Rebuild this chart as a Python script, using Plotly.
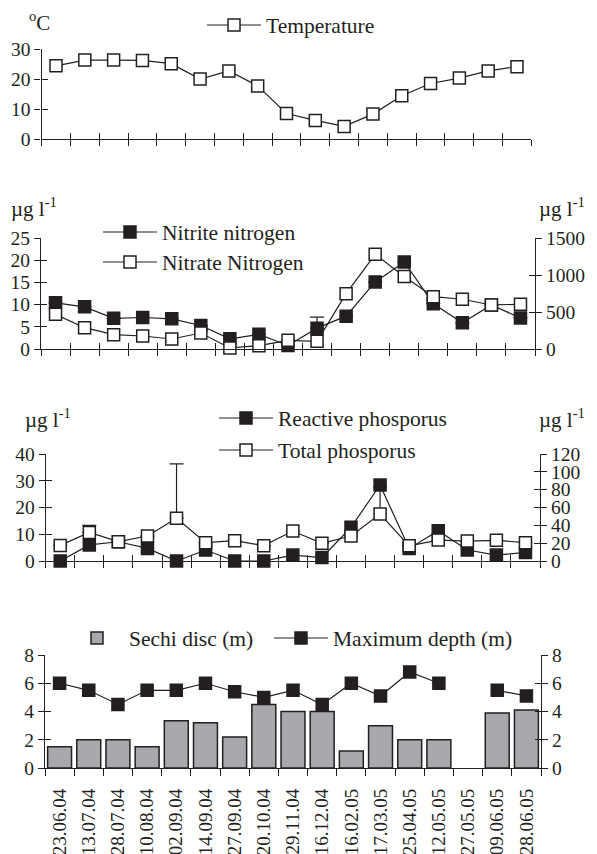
import plotly.graph_objects as go

# ---------------- data ----------------
dates = ["23.06.04", "13.07.04", "28.07.04", "10.08.04", "02.09.04", "14.09.04",
         "27.09.04", "20.10.04", "29.11.04", "16.12.04", "16.02.05", "17.03.05",
         "25.04.05", "12.05.05", "27.05.05", "09.06.05", "28.06.05"]

temperature = [24.4, 26.3, 26.3, 26.2, 25.1, 20.0, 22.7, 17.7, 8.5, 6.2, 4.2, 8.3,
               14.4, 18.5, 20.3, 22.7, 24.1]

nitrite = [10.4, 9.5, 6.9, 7.1, 6.8, 5.3, 2.3, 3.3, 0.8, 4.7, 7.4, 15.1,
           19.6, 10.2, 5.9, 9.9, 7.0]
nitrite_err = [0, 0, 0, 0, 0, 0, 0, 0, 0, 2.5, 0, 0, 0, 0, 0, 0, 0]
nitrate = [468, 288, 194, 176, 135, 216, 14, 45, 117, 104, 748, 1279,
           980, 707, 672, 595, 605]

reactive_p = [0, 6.0, 7.2, 4.7, 0, 4.1, 0, 0, 2.2, 1.3, 12.6, 28.4,
              4.7, 11.3, 4.1, 2.2, 3.2]
total_p = [17.5, 32.0, 21.7, 28.0, 48.0, 20.5, 22.8, 17.2, 33.6, 19.8, 28.0, 52.7,
           17.0, 23.5, 22.4, 23.2, 20.6]
total_p_err = [0, 8, 0, 0, 61, 0, 0, 0, 0, 0, 0, 30, 0, 0, 0, 0, 0]

secchi = [1.5, 2.0, 2.0, 1.5, 3.35, 3.2, 2.2, 4.5, 4.0, 4.0, 1.2, 3.0,
          2.0, 2.0, None, 3.9, 4.1]
max_depth = [6.0, 5.5, 4.5, 5.5, 5.5, 6.0, 5.4, 5.0, 5.5, 4.5, 6.0, 5.1,
             6.8, 6.0, None, 5.5, 5.1]

# ---------------- style ----------------
W, H = 597, 854
OFF = 8  # page body margin of the browser
INK = "#231f20"
FONT = "'Liberation Serif', 'DejaVu Serif', serif"
TICKFONT = dict(family=FONT, size=19.5, color=INK)
DATEFONT = dict(family=FONT, size=19, color=INK)
LEGFONT = dict(family=FONT, size=21.5, color=INK)

n = len(dates)
xidx = list(range(n))
bounds = [i - 0.5 for i in range(n + 1)]


def px_x(p):
    return (p - OFF) / W


def px_y(p):
    return 1 - (p - OFF) / H


def xd(a, b):
    return [px_x(a), px_x(b)]


def yd(top, bottom):
    return [px_y(bottom), px_y(top)]


def base_axis(**kw):
    d = dict(showline=True, linecolor=INK, linewidth=1.3, ticks="outside",
             ticklen=6, tickwidth=1.3, tickcolor=INK, showgrid=False,
             zeroline=False, tickfont=TICKFONT, fixedrange=True)
    d.update(kw)
    return d


def inner_axis(**kw):
    d = dict(showline=False, ticks="inside", ticklen=6, tickwidth=1.3,
             tickcolor=INK, showgrid=False, zeroline=False,
             showticklabels=False, fixedrange=True, tickmode="array")
    d.update(kw)
    return d


fig = go.Figure()

line_style = dict(color=INK, width=1.2)
open_marker = dict(symbol="square", size=12, color="white", line=dict(color=INK, width=1.5))
fill_marker = dict(symbol="square", size=12, color=INK, line=dict(color=INK, width=1.5))

# Panel 1: temperature
fig.add_trace(go.Scatter(x=xidx, y=temperature, mode="lines+markers", name="Temperature",
                         line=line_style, marker=open_marker, xaxis="x", yaxis="y",
                         cliponaxis=False, legend="legend"))

# Panel 2: nitrogen
fig.add_trace(go.Scatter(x=xidx, y=nitrite, mode="lines+markers", name="Nitrite nitrogen",
                         line=line_style, marker=fill_marker, xaxis="x2", yaxis="y2",
                         error_y=dict(type="data", array=nitrite_err,
                                      arrayminus=[0] * n, symmetric=False,
                                      color=INK, thickness=1.2, width=7),
                         cliponaxis=False, legend="legend2"))
fig.add_trace(go.Scatter(x=xidx, y=nitrate, mode="lines+markers", name="Nitrate Nitrogen",
                         line=line_style, marker=open_marker, xaxis="x2", yaxis="y3",
                         cliponaxis=False, legend="legend3"))

# Panel 3: phosphorus
fig.add_trace(go.Scatter(x=xidx, y=reactive_p, mode="lines+markers", name="Reactive phosporus",
                         line=line_style, marker=fill_marker, xaxis="x3", yaxis="y4",
                         cliponaxis=False, legend="legend4"))
fig.add_trace(go.Scatter(x=xidx, y=total_p, mode="lines+markers", name="Total phosporus",
                         line=line_style, marker=open_marker, xaxis="x3", yaxis="y5",
                         error_y=dict(type="data", array=total_p_err,
                                      arrayminus=[0] * n, symmetric=False,
                                      color=INK, thickness=1.2, width=7),
                         cliponaxis=False, legend="legend5"))

# Panel 4: Secchi & depth
fig.add_trace(go.Bar(x=xidx, y=secchi, name="Sechi disc (m)",
                     marker=dict(color="#a7a9ac", line=dict(color=INK, width=1.5)),
                     xaxis="x4", yaxis="y6", legend="legend6"))
fig.add_trace(go.Scatter(x=xidx, y=max_depth, mode="lines+markers", name="Maximum depth (m)",
                         line=line_style, marker=fill_marker, xaxis="x4", yaxis="y7",
                         connectgaps=False, cliponaxis=False, legend="legend7"))

# empty helper traces that only register the overlay axes carrying the inner tick marks
for xa, ya in [("x5", "y"), ("x6", "y2"), ("x7", "y4"),
               ("x", "y8"), ("x2", "y9"), ("x2", "y10"), ("x3", "y11"),
               ("x3", "y12"), ("x4", "y13"), ("x4", "y14")]:
    fig.add_trace(go.Scatter(x=xidx, y=[None] * n, mode="markers", xaxis=xa, yaxis=ya,
                             showlegend=False, hoverinfo="skip"))

P1 = dict(x=xd(41.6, 531.4), y=yd(49, 139))
P2 = dict(x=xd(41, 535), y=yd(238, 349))
P3 = dict(x=xd(45.7, 540), y=yd(454, 561))
P4 = dict(x=xd(45, 541), y=yd(655, 768))

xr = [-0.5, n - 0.5]
xcommon = dict(range=xr, tickmode="array", tickvals=bounds, showticklabels=False)

t1, t2, t3 = [0, 10, 20, 30], [0, 5, 10, 15, 20, 25], [0, 500, 1000, 1500]
t4, t5, t6 = [0, 10, 20, 30, 40], [0, 20, 40, 60, 80, 100, 120], [0, 2, 4, 6, 8]

layout = dict(
    width=W, height=H, margin=dict(l=0, r=0, t=0, b=0, autoexpand=False),
    paper_bgcolor="white", plot_bgcolor="rgba(0,0,0,0)",
    bargap=0.18, showlegend=True,
    font=dict(family=FONT, color=INK),
    # panel 1
    xaxis=base_axis(domain=P1["x"], anchor="y", **xcommon),
    yaxis=base_axis(domain=P1["y"], anchor="x", range=[0, 30], tickvals=t1),
    # panel 2
    xaxis2=base_axis(domain=P2["x"], anchor="y2", **xcommon),
    yaxis2=base_axis(domain=P2["y"], anchor="x2", range=[0, 25], tickvals=t2),
    yaxis3=base_axis(domain=P2["y"], anchor="x2", overlaying="y2", side="right",
                     range=[0, 1500], tickvals=t3),
    # panel 3
    xaxis3=base_axis(domain=P3["x"], anchor="y4", **xcommon),
    yaxis4=base_axis(domain=P3["y"], anchor="x3", range=[0, 40], tickvals=t4),
    yaxis5=base_axis(domain=P3["y"], anchor="x3", overlaying="y4", side="right",
                     range=[0, 120], tickvals=t5),
    # panel 4: date labels at the centres, tick marks at category boundaries
    xaxis4=base_axis(domain=P4["x"], anchor="y6", range=xr, tickmode="array",
                     tickvals=xidx, ticktext=dates, tickangle=-90, ticks="",
                     ticklabelstandoff=12, tickfont=DATEFONT,
                     minor=dict(tickmode="array", tickvals=bounds, ticks="outside",
                                ticklen=7, tickwidth=1.3, tickcolor=INK, showgrid=False)),
    yaxis6=base_axis(domain=P4["y"], anchor="x4", range=[0, 8], tickvals=t6),
    yaxis7=base_axis(domain=P4["y"], anchor="x4", overlaying="y6", side="right",
                     range=[0, 8], tickvals=t6),
    # inner ticks (crossing tick marks)
    xaxis5=inner_axis(domain=P1["x"], anchor="y", overlaying="x", range=xr, tickvals=bounds),
    xaxis6=inner_axis(domain=P2["x"], anchor="y2", overlaying="x2", range=xr, tickvals=bounds),
    xaxis7=inner_axis(domain=P3["x"], anchor="y4", overlaying="x3", range=xr, tickvals=bounds),
    yaxis8=inner_axis(domain=P1["y"], anchor="x", overlaying="y", range=[0, 30], tickvals=t1),
    yaxis9=inner_axis(domain=P2["y"], anchor="x2", overlaying="y2", range=[0, 25], tickvals=t2),
    yaxis10=inner_axis(domain=P2["y"], anchor="x2", overlaying="y2", side="right", range=[0, 1500], tickvals=t3),
    yaxis11=inner_axis(domain=P3["y"], anchor="x3", overlaying="y4", range=[0, 40], tickvals=t4),
    yaxis12=inner_axis(domain=P3["y"], anchor="x3", overlaying="y4", side="right", range=[0, 120], tickvals=t5),
    yaxis13=inner_axis(domain=P4["y"], anchor="x4", overlaying="y6", range=[0, 8], tickvals=t6),
    yaxis14=inner_axis(domain=P4["y"], anchor="x4", overlaying="y6", side="right", range=[0, 8], tickvals=t6),
)


def leg(xpx, ypx, horiz=False):
    return dict(x=px_x(xpx), y=px_y(ypx), xanchor="left", yanchor="middle",
                bgcolor="rgba(0,0,0,0)", borderwidth=0, font=LEGFONT,
                itemwidth=54, orientation="h" if horiz else "v",
                itemclick=False, itemdoubleclick=False)


layout["legend"] = leg(202, 25)
layout["legend2"] = leg(98, 232)
layout["legend3"] = leg(98, 262)
layout["legend4"] = leg(214, 418)
layout["legend5"] = leg(214, 450)
layout["legend6"] = leg(65, 638)
layout["legend7"] = leg(269, 638)

fig.update_layout(**layout)

unit = "µg l<sup>-1</sup>"
ann = [
    dict(text="<sup>o</sup>C", x=px_x(27), y=px_y(21), xanchor="left", yanchor="middle"),
    dict(text=unit, x=px_x(9), y=px_y(207), xanchor="left", yanchor="middle"),
    dict(text=unit, x=px_x(537), y=px_y(207), xanchor="left", yanchor="middle"),
    dict(text=unit, x=px_x(23), y=px_y(418), xanchor="left", yanchor="middle"),
    dict(text=unit, x=px_x(537), y=px_y(418), xanchor="left", yanchor="middle"),
]
for a in ann:
    fig.add_annotation(xref="paper", yref="paper", showarrow=False,
                       font=dict(family=FONT, size=21, color=INK), **a)

fig.write_html("out.html")
